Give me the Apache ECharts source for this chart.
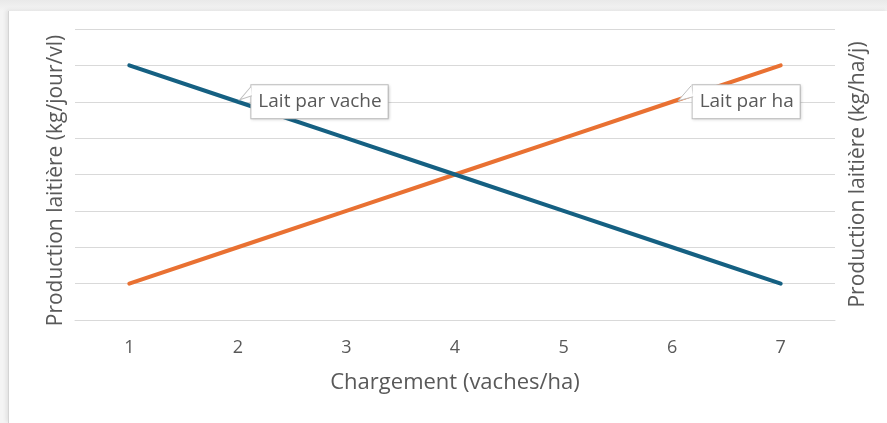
<!DOCTYPE html>
<html>
<head>
<meta charset="utf-8">
<script src="https://cdn.jsdelivr.net/npm/echarts@6/dist/echarts.min.js"></script>
<style>
  html, body { margin: 0; padding: 0; width: 887px; height: 423px; overflow: hidden; }
  body { background: linear-gradient(to bottom, #e9e9e9 0px, #f4f4f4 11px); }
  #frame { position: absolute; left: 8px; top: 11px; width: 879px; height: 412px; background: #fff; border-left: 1px solid #d4d4d4; box-shadow: -2px -1px 4px rgba(0,0,0,0.08); }
  #chart { position: absolute; left: 0; top: 0; width: 887px; height: 423px; }
</style>
</head>
<body>
<div id="frame"></div>
<div id="chart"></div>
<script>
const categories = ['1', '2', '3', '4', '5', '6', '7'];
const laitParVache = [7, 6, 5, 4, 3, 2, 1];
const laitParHa = [1, 2, 3, 4, 5, 6, 7];
const seriesNames = ['Lait par vache', 'Lait par ha'];
const xTitle = 'Chargement (vaches/ha)';
const yLeftTitle = 'Production laitière (kg/jour/vl)';
const yRightTitle = 'Production laitière (kg/ha/j)';
const calloutIndexVache = 1;
const calloutIndexHa = 5;

const textColor = '#595959';
const font = '"Open Sans", Lato, sans-serif';

function callout(text, dist) {
  return {
    show: true,
    position: 'right',
    distance: dist,
    formatter: text,
    color: textColor,
    fontFamily: font,
    fontSize: 19,
    lineHeight: 21,
    backgroundColor: '#ffffff',
    borderColor: '#bfbfbf',
    borderWidth: 1,
    padding: [6, 6, 6, 7],
    shadowColor: 'rgba(0,0,0,0.12)',
    shadowBlur: 3,
    shadowOffsetX: 1,
    shadowOffsetY: 1
  };
}

function wedge(coord, path, size, offset) {
  return {
    symbol: 'path://' + path,
    symbolSize: size,
    symbolKeepAspect: false,
    symbolOffset: offset,
    label: { show: false },
    data: [{ coord: coord }],
    itemStyle: { color: '#ffffff', borderColor: '#bfbfbf', borderWidth: 1 },
    silent: true
  };
}

const dataVache = laitParVache.map((v, i) => i === calloutIndexVache ? { value: v, label: callout(seriesNames[0], 13) } : v);
const dataHa = laitParHa.map((v, i) => i === calloutIndexHa ? { value: v, label: callout(seriesNames[1], 20) } : v);

const chart = echarts.init(document.getElementById('chart'), null, { renderer: 'canvas' });
chart.setOption({
  backgroundColor: 'transparent',
  animation: false,
  grid: { left: 75, right: 52, top: 29, bottom: 103 },
  xAxis: {
    type: 'category',
    data: categories,
    boundaryGap: true,
    axisLine: { show: true, lineStyle: { color: '#d9d9d9', width: 1 } },
    axisTick: { show: false },
    axisLabel: { color: textColor, fontFamily: font, fontSize: 18, margin: 19 },
    name: xTitle,
    nameLocation: 'middle',
    nameGap: 52,
    nameTextStyle: { color: textColor, fontFamily: font, fontSize: 22 }
  },
  yAxis: [
    {
      type: 'value', min: 0, max: 8, interval: 1,
      axisLine: { show: false }, axisTick: { show: false },
      axisLabel: { show: false },
      splitLine: { lineStyle: { color: '#d9d9d9', width: 1 } },
      name: yLeftTitle, nameLocation: 'middle', nameGap: 8, nameRotate: 90,
      nameTextStyle: { color: textColor, fontFamily: font, fontSize: 21, padding: [0, 12, 0, 0] }
    },
    {
      type: 'value', min: 0, max: 8, interval: 1, position: 'right',
      axisLine: { show: false }, axisTick: { show: false },
      axisLabel: { show: false },
      splitLine: { show: false },
      name: yRightTitle, nameLocation: 'middle', nameGap: 13, nameRotate: 90,
      nameTextStyle: { color: textColor, fontFamily: font, fontSize: 21 }
    }
  ],
  series: [
    {
      name: seriesNames[1], type: 'line', data: dataHa, yAxisIndex: 1,
      symbol: 'circle', symbolSize: 1, showSymbol: true, z: 2,
      lineStyle: { color: '#E97132', width: 4, cap: 'round' },
      itemStyle: { color: '#E97132' },
      markPoint: wedge([calloutIndexHa, laitParHa[calloutIndexHa]], 'M13 0 L0 15 L15 11', [15, 15], [13.5, -8.5])
    },
    {
      name: seriesNames[0], type: 'line', data: dataVache, yAxisIndex: 0,
      symbol: 'circle', symbolSize: 1, showSymbol: true, z: 3,
      lineStyle: { color: '#156082', width: 4, cap: 'round' },
      itemStyle: { color: '#156082' },
      markPoint: wedge([calloutIndexVache, laitParVache[calloutIndexVache]], 'M11 0 L0 13 L12 9', [12, 13], [8, -8.5])
    }
  ]
});
</script>
</body>
</html>
